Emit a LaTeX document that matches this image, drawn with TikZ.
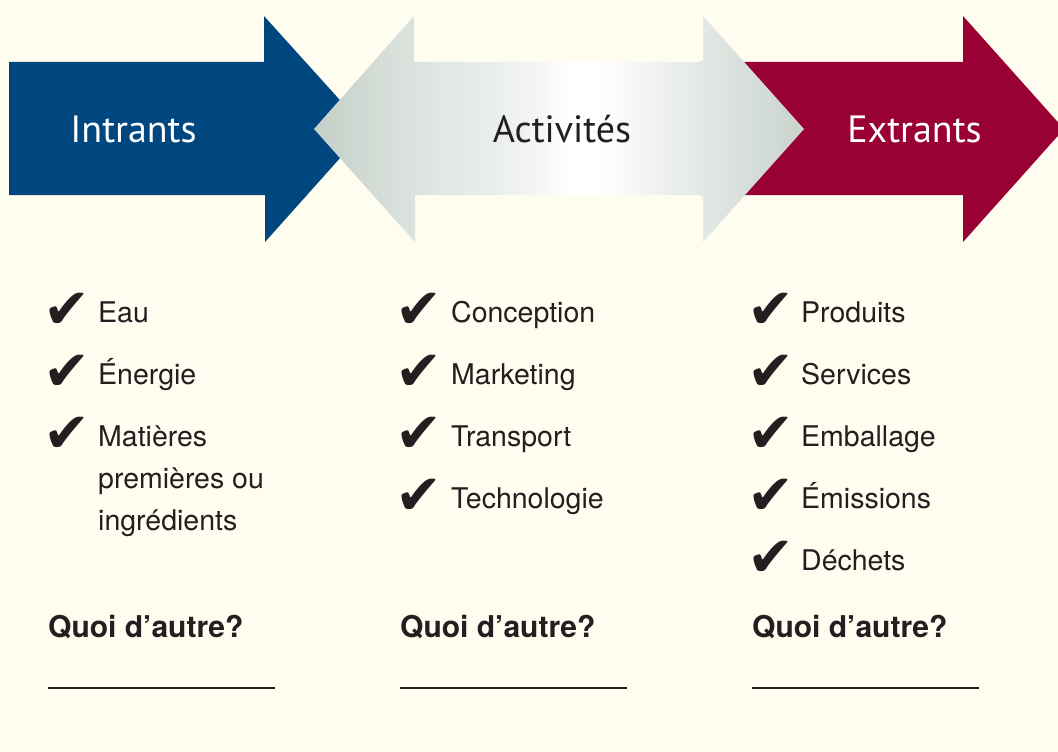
\documentclass[tikz,border=0pt]{standalone}
\usepackage{fontspec}
\setmainfont{TeX Gyre Heros}
\newfontfamily\headfont{PT Sans}
\newfontfamily\checkfont{DejaVu Sans}
\usetikzlibrary{calc}

\definecolor{bgcream}{RGB}{255,253,240}
\definecolor{inblue}{RGB}{0,70,127}
\definecolor{outred}{RGB}{153,0,51}
\definecolor{ink}{RGB}{35,31,32}
\definecolor{actgrey}{RGB}{146,166,154}
\definecolor{actpale}{RGB}{182,197,188}
\definecolor{actlight}{RGB}{218,225,220}
\definecolor{actwhite}{RGB}{241,244,242}
\pgfdeclarehorizontalshading{actshade}{100bp}{color(0bp)=(actgrey); color(20bp)=(actpale);
  color(34bp)=(actlight); color(47bp)=(actwhite); color(51bp)=(white); color(54bp)=(white);
  color(68bp)=(actlight); color(83bp)=(actpale); color(100bp)=(actgrey)}

\tikzset{
  headtext/.style={anchor=base, inner sep=0pt, font=\headfont\fontsize{38}{40}\selectfont},
  item/.style={anchor=base west, text=ink, inner sep=0pt, font=\fontsize{28.5}{42}\selectfont},
  tick/.style={anchor=base west, text=ink, inner sep=0pt, font=\checkfont\fontsize{56}{56}\selectfont},
  more/.style={anchor=base west, text=ink, inner sep=0pt, font=\bfseries\fontsize{30}{32}\selectfont},
  blank/.style={draw=ink, line width=1.3pt}
}

\begin{document}
\begin{tikzpicture}[x=1pt,y=-1pt]
        \fill[bgcream] (0,0) rectangle (1058,752);
        \useasboundingbox (0,0) rectangle (1058,752);
        \clip (0,0) rectangle (1058,752);
        % arrows
        \fill[outred] (700,62) -- (963,62) -- (963,16) -- (1064,129) -- (963,242) -- (963,195) -- (700,195) -- cycle;
        \fill[inblue] (9,62) -- (264,62) -- (264,16) -- (366,129) -- (265,242) -- (265,195) -- (9,195) -- cycle;
        \shade[shading=actshade] (314,129) -- (414,16) -- (414,62) -- (703,62) -- (703,16) -- (804,129)
            -- (703,242) -- (703,195) -- (415,195) -- (415,242) -- cycle;
        \node[headtext, text=white] (intrants) at (133.5,142) {Intrants};
        \node[headtext, text=ink] (activites) at (562,142) {Activités};
        \node[headtext, text=white] (extrants) at (914.5,142) {Extrants};
        % intrants
        \foreach \t [count=\i] in {Eau, Énergie, Matières}
        \node[item] (in-\i) at (98,260+62*\i) {\t};
        \node[item] (in-3b) at (98,488) {premières ou};
        \node[item] (in-3c) at (98,530) {ingrédients};
        \foreach \i in {1,2,3}
        \node[tick] (in-tick-\i) at (43,266+62*\i) {✔};
        % activites
        \foreach \t [count=\i] in {Conception, Marketing, Transport, Technologie}
        \node[item] (act-\i) at (451,260+62*\i) {\t};
        \foreach \i in {1,...,4}
        \node[tick] (act-tick-\i) at (395,266+62*\i) {✔};
        % extrants
        \foreach \t [count=\i] in {Produits, Services, Emballage, Émissions, Déchets}
        \node[item] (out-\i) at (801,260+62*\i) {\t};
        \foreach \i in {1,...,5}
        \node[tick] (out-tick-\i) at (747,266+62*\i) {✔};
        % quoi d'autre
        \foreach \cx/\n in {48/in, 400/act, 752/out} {
        \node[more] (\n-more) at (\cx,637) {Quoi d’autre?};
        \draw[blank] (\cx,688) -- ++(227,0);
        }
    \end{tikzpicture}
\end{document}
